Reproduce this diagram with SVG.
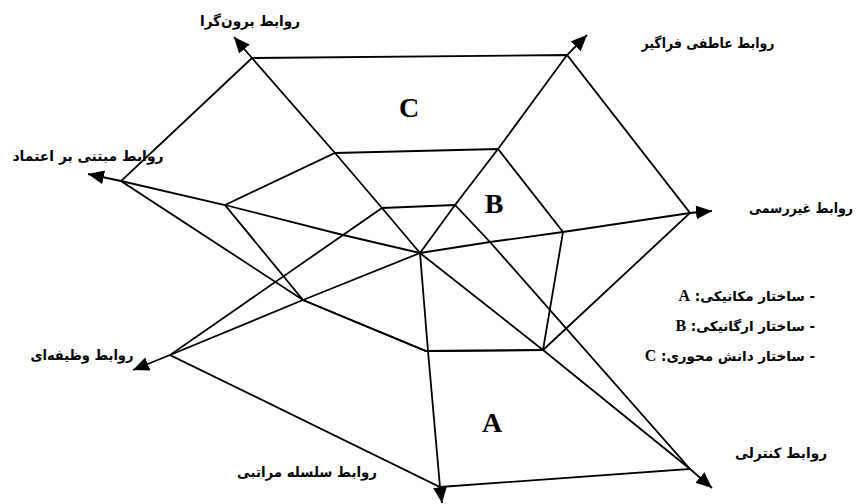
<svg xmlns="http://www.w3.org/2000/svg" width="864" height="504" viewBox="0 0 864 504">
<style>
.ln{fill:none;stroke:#000;stroke-width:1.8;stroke-linejoin:miter}
.ax{fill:none;stroke:#000;stroke-width:1.8;marker-end:url(#ah)}
.lbl{font-family:"DejaVu Sans","Liberation Sans",sans-serif;font-weight:bold;font-size:14px;fill:#000;text-anchor:middle}
.big{font-family:"Liberation Serif","Times New Roman",serif;font-weight:bold;font-size:28px;fill:#000;text-anchor:middle}
.leg{font-family:"DejaVu Sans","Liberation Sans",sans-serif;font-weight:bold;font-size:13.5px;fill:#000}
.lat{font-family:"Liberation Serif","Times New Roman",serif;font-weight:bold;font-size:16px}
</style>
<defs>
<marker id="ah" markerUnits="userSpaceOnUse" markerWidth="16" markerHeight="14" viewBox="0 0 16 14" refX="16" refY="7" orient="auto">
<path d="M0,0 L16,7 L0,14 z" fill="#000"/>
</marker>
</defs>
<rect width="864" height="504" fill="#fff"/>
<g id="connectors">
<polyline class="ax" points="420,253 382,208 335,153 252,58 234,37"/>
<polyline class="ax" points="420,253 455,205 498,149 567,55 587,35"/>
<polyline class="ax" points="420,253 490,242 563,232 690,213 712,211"/>
<polyline class="ax" points="420,253 543,350 690,469 712,488"/>
<polyline class="ax" points="420,253 428,351 440,487 442,503"/>
<polyline class="ax" points="420,253 303,300 170,355 133,370"/>
<polyline class="ax" points="420,253 343,235 225,205 121,181 88,174"/>
<polygon class="ln" points="252,58 567,55 690,213 543,350 426,351 303,300 121,181"/>
<polygon class="ln" points="335,153 498,149 563,232 543,350 426,351 303,300 225,205"/>
<polygon class="ln" points="382,208 455,205 490,242 690,469 440,487 170,355"/>
</g>
<g id="axis-outward"><text class="lbl" x="250" y="26" textLength="100" lengthAdjust="spacingAndGlyphs">روابط برون‌گرا</text></g>
<g id="axis-emotional"><text class="lbl" x="708" y="48" textLength="133" lengthAdjust="spacingAndGlyphs">روابط عاطفی فراگیر</text></g>
<g id="axis-trust"><text class="lbl" x="88" y="161" textLength="151" lengthAdjust="spacingAndGlyphs">روابط مبتنی  بر اعتماد</text></g>
<g id="axis-informal"><text class="lbl" x="801" y="213" textLength="104" lengthAdjust="spacingAndGlyphs">روابط غیررسمی</text></g>
<g id="axis-functional"><text class="lbl" x="82" y="360" textLength="103" lengthAdjust="spacingAndGlyphs">روابط وظیفه‌ای</text></g>
<g id="axis-hierarchy"><text class="lbl" x="307" y="477" textLength="140" lengthAdjust="spacingAndGlyphs">روابط سلسله مراتبی</text></g>
<g id="axis-control"><text class="lbl" x="781" y="458" textLength="92" lengthAdjust="spacingAndGlyphs">روابط کنترلی</text></g>
<g id="region-C"><text class="big" x="409" y="117">C</text></g>
<g id="region-B"><text class="big" x="494" y="213">B</text></g>
<g id="region-A"><text class="big" x="492" y="432">A</text></g>
<g id="legend">
<text class="leg" x="815" y="301" direction="rtl" text-anchor="start">- ساختار مکانیکی: <tspan class="lat">A</tspan></text>
<text class="leg" x="815" y="331" direction="rtl" text-anchor="start">- ساختار ارگانیکی: <tspan class="lat">B</tspan></text>
<text class="leg" x="815" y="361" direction="rtl" text-anchor="start">-  ساختار دانش محوری: <tspan class="lat">C</tspan></text>
</g>
</svg>
